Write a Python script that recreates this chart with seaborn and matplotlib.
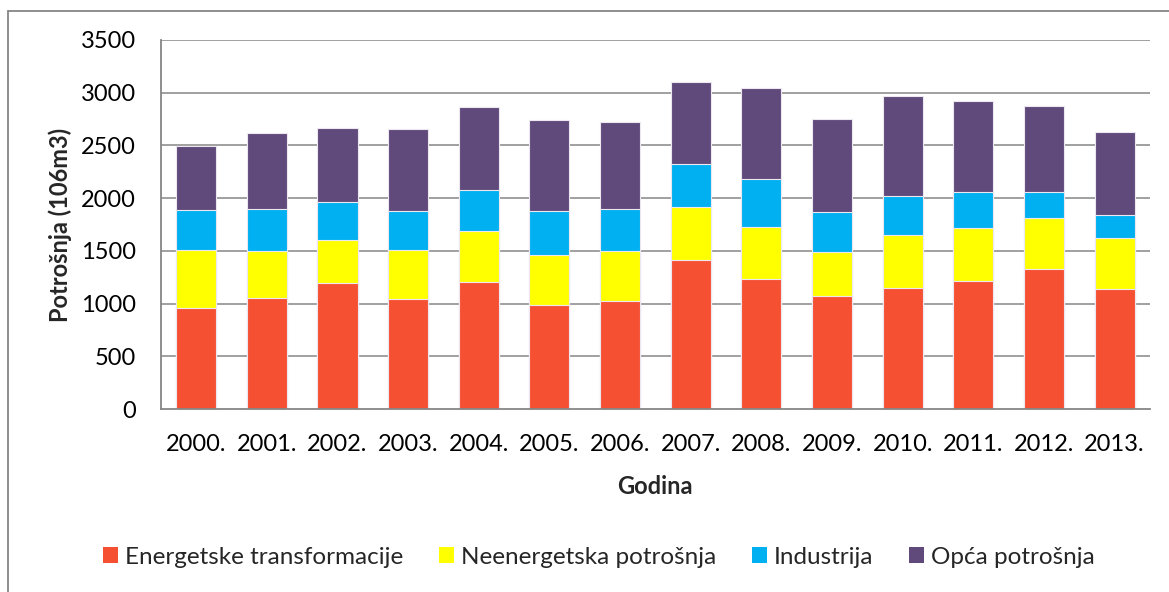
import matplotlib
matplotlib.use("Agg")
import matplotlib.pyplot as plt
from matplotlib.patches import Patch
from matplotlib.lines import Line2D
import numpy as np
import pandas as pd
import seaborn as sns

years = ["2000.", "2001.", "2002.", "2003.", "2004.", "2005.", "2006.",
         "2007.", "2008.", "2009.", "2010.", "2011.", "2012.", "2013."]
energetske = [957, 1052, 1197, 1042, 1203, 982, 1027, 1409, 1229, 1068, 1147, 1210, 1327, 1134]
neenergetska = [550, 448, 408, 465, 487, 480, 467, 511, 502, 420, 505, 511, 489, 490]
industrija = [379, 401, 360, 369, 385, 414, 407, 402, 452, 379, 369, 335, 240, 217]
opca = [609, 718, 698, 784, 787, 863, 819, 783, 859, 881, 945, 866, 815, 784]

series_names = ["Energetske transformacije", "Neenergetska potrošnja", "Industrija", "Opća potrošnja"]
colors = ["#F65033", "#FFFF00", "#00B0F0", "#604A7B"]

sns.set_theme(style="white")
plt.rcParams["font.family"] = ["Lato", "DejaVu Sans"]

df = pd.DataFrame({"Godina": years, "e": energetske, "n": neenergetska, "i": industrija, "o": opca})
df["c1"] = df["e"]
df["c2"] = df["c1"] + df["n"]
df["c3"] = df["c2"] + df["i"]
df["c4"] = df["c3"] + df["o"]

W, H = 1169, 592
fig = plt.figure(figsize=(W / 100, H / 100), dpi=100)
ax = fig.add_axes([160.7 / W, 1 - 409 / H, (1150 - 160.7) / W, (409 - 40) / H])

grid_c = "#868686"
for y in range(500, 3501, 500):
    ax.axhline(y, color=grid_c, lw=1.1, zorder=0)

for col, c in zip(["c4", "c3", "c2", "c1"], colors[::-1]):
    sns.barplot(data=df, x="Godina", y=col, color=c, saturation=1, width=0.57,
                edgecolor="#EDE8F0", linewidth=0.8, ax=ax, zorder=2)

ax.set_ylim(0, 3500)
ax.set_xlim(-0.5, len(years) - 0.5)
ax.set_yticks(range(0, 3501, 500))
for s in ["top", "right"]:
    ax.spines[s].set_visible(False)
for s in ["left", "bottom"]:
    ax.spines[s].set_color(grid_c)
    ax.spines[s].set_linewidth(1.3)
ax.tick_params(axis="both", length=0, labelsize=17, colors="black")
ax.tick_params(axis="y", pad=18)
ax.tick_params(axis="x", pad=18)

ax.set_xlabel("Godina", fontsize=17, fontweight="bold")
ax.set_ylabel("Potrošnja (106m3)", fontsize=17, fontweight="bold")
ax.xaxis.set_label_coords(0.5, (409 - 486) / 369)
ax.xaxis.label.set_va("center")
ax.yaxis.set_label_coords((60 - 160.7) / 989.3, 0.5)
ax.yaxis.label.set_va("center")

handles = [Patch(facecolor=c, edgecolor="none") for c in colors]
fig.legend(handles, series_names, loc="center", bbox_to_anchor=(599 / W, 1 - 557 / H),
           ncol=4, frameon=False, fontsize=17.5, handlelength=0.62, handleheight=0.62,
           handletextpad=0.3, columnspacing=1.45)

# chart area border
fig.add_artist(Line2D([8 / W, 8 / W], [0, 1 - 11 / H], color=grid_c, lw=1.3, transform=fig.transFigure))
fig.add_artist(Line2D([8 / W, 1], [1 - 11 / H, 1 - 11 / H], color=grid_c, lw=1.3, transform=fig.transFigure))

fig.savefig("out.png", dpi=100, facecolor="white")
